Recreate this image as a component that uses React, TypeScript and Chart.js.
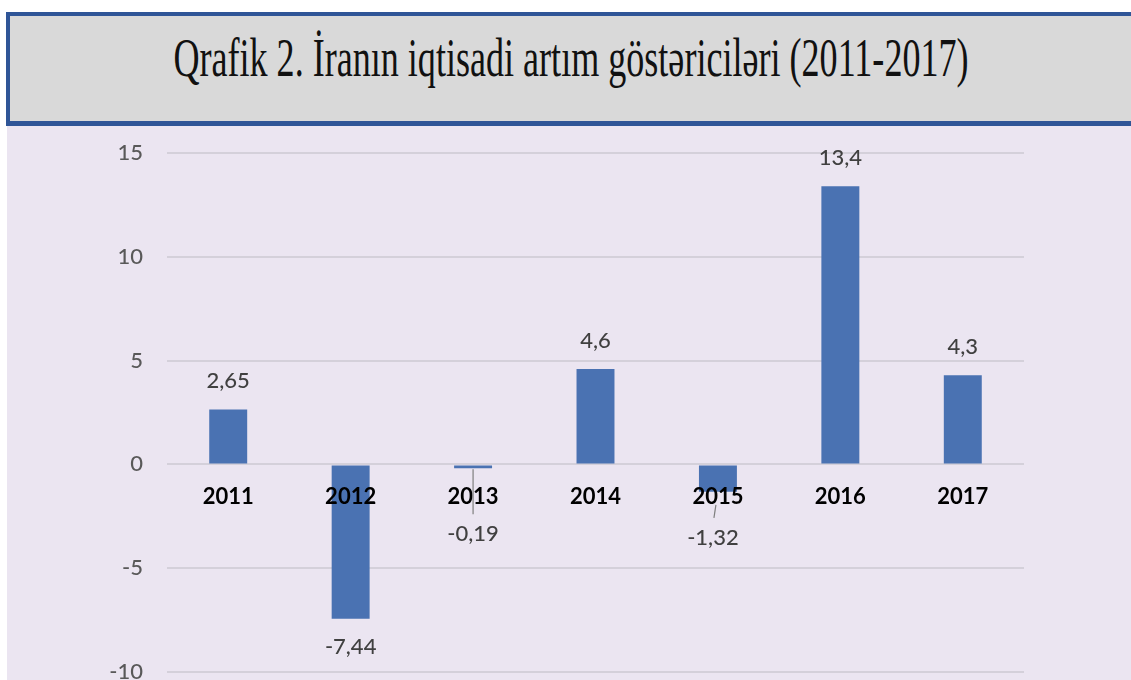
import React, { useEffect, useRef } from "react";
import { Chart, registerables } from "chart.js";

Chart.register(...registerables);

const TITLE = "Qrafik 2. İranın iqtisadi artım göstəriciləri (2011-2017)";
const categories = ["2011", "2012", "2013", "2014", "2015", "2016", "2017"];
const growth = [2.65, -7.44, -0.19, 4.6, -1.32, 13.4, 4.3];
const yTicks = [-10, -5, 0, 5, 10, 15];

// label placement tweaks (pixels) for labels that were moved off the bar end
const labelShift: Record<number, { dx: number; dy: number; leader: boolean }> = {
  2: { dx: 0, dy: 38, leader: true },
  4: { dx: -5, dy: 18, leader: true },
};

const LABEL_FONT = "Lato, 'Open Sans', sans-serif";

const fmt = (v: number) => String(v).replace(".", ",");

const overlayPlugin = {
  id: "overlay",
  afterDatasetsDraw(chart: any) {
    const ctx = chart.ctx;
    const meta = chart.getDatasetMeta(0);
    const yScale = chart.scales.y;
    const zeroY = yScale.getPixelForValue(0);
    ctx.save();
    ctx.font = `bold 22px ${LABEL_FONT}`;
    ctx.fillStyle = "#000000";
    ctx.textAlign = "center";
    ctx.textBaseline = "middle";
    meta.data.forEach((bar: any, i: number) => {
      ctx.fillText(categories[i], bar.x, zeroY + 33);
    });
    ctx.font = `500 22px ${LABEL_FONT}`;
    ctx.fillStyle = "#404040";
    meta.data.forEach((bar: any, i: number) => {
      const v = growth[i];
      const end = bar.y;
      let x = bar.x;
      let y = v >= 0 ? end - 28 : end + 28;
      const s = labelShift[i];
      if (s) {
        x += s.dx;
        y += s.dy;
        if (s.leader) {
          ctx.strokeStyle = "#7f7f7f";
          ctx.lineWidth = 1.2;
          ctx.beginPath();
          if (i === 2) {
            ctx.moveTo(bar.x, end + 1);
            ctx.lineTo(bar.x, y - 20);
          } else {
            ctx.moveTo(bar.x - 2, end + 13);
            ctx.lineTo(bar.x - 4, y - 20);
          }
          ctx.stroke();
        }
      }
      ctx.fillText(fmt(v), x, y);
    });
    ctx.restore();
  },
};

export default function App() {
  const canvasRef = useRef<HTMLCanvasElement | null>(null);
  const titleRef = useRef<HTMLSpanElement | null>(null);

  useEffect(() => {
    const t = titleRef.current;
    if (t) {
      const w = t.offsetWidth;
      t.style.transform = `translateX(-50%) scaleX(${795 / w})`;
    }
    const canvas = canvasRef.current;
    if (!canvas) return;
    const chart = new Chart(canvas, {
      type: "bar",
      data: {
        labels: categories,
        datasets: [
          {
            data: growth,
            backgroundColor: "#4a72b2",
            borderWidth: 0,
            categoryPercentage: 1,
            barPercentage: 0.31,
          },
        ],
      },
      options: {
        responsive: false,
        maintainAspectRatio: false,
        animation: false,
        layout: { padding: { left: 0, right: 107, top: 27, bottom: 8 } },
        plugins: {
          legend: { display: false },
          tooltip: { enabled: false },
          title: { display: false },
        },
        scales: {
          x: {
            display: false,
            grid: { display: false },
            ticks: { display: false },
            afterFit: (s: any) => {
              s.height = 0;
              s.paddingLeft = 0;
              s.paddingRight = 0;
            },
          },
          y: {
            min: -10,
            max: 15,
            afterBuildTicks: (s: any) => {
              s.ticks = yTicks.map((v) => ({ value: v }));
            },
            afterFit: (s: any) => {
              s.width = 160;
              s.paddingTop = 0;
              s.paddingBottom = 0;
            },
            border: { display: false },
            grid: {
              color: "#d4d0da",
              lineWidth: 2,
              drawTicks: false,
            },
            ticks: {
              padding: 24,
              color: "#595959",
              font: { family: LABEL_FONT, size: 22, weight: "500" },
            },
          },
        },
      },
      plugins: [overlayPlugin],
    });
    return () => chart.destroy();
  }, []);

  return (
    <div
      style={{
        position: "fixed",
        left: 0,
        top: 0,
        width: 1131,
        height: 680,
        background: "#ffffff",
        overflow: "hidden",
      }}
    >
      <div
        style={{
          position: "absolute",
          left: 7,
          top: 126,
          width: 1124,
          height: 554,
          background: "#ebe5f1",
        }}
      >
        <canvas
          ref={canvasRef}
          width={1124}
          height={554}
          style={{ display: "block", width: 1124, height: 554 }}
        />
      </div>
      <div
        style={{
          position: "absolute",
          left: 6,
          top: 12,
          width: 1140,
          height: 114,
          boxSizing: "border-box",
          border: "4px solid #2f5597",
          borderBottomWidth: 5,
          background: "#d9d9d9",
        }}
      />
      <span
        ref={titleRef}
        style={{
          position: "absolute",
          left: 571,
          top: 31,
          display: "inline-block",
          whiteSpace: "nowrap",
          fontFamily: "'Liberation Serif', 'Times New Roman', serif",
          fontSize: 54,
          lineHeight: "54px",
          color: "#111111",
          transformOrigin: "center",
        }}
      >
        {TITLE}
      </span>
    </div>
  );
}
